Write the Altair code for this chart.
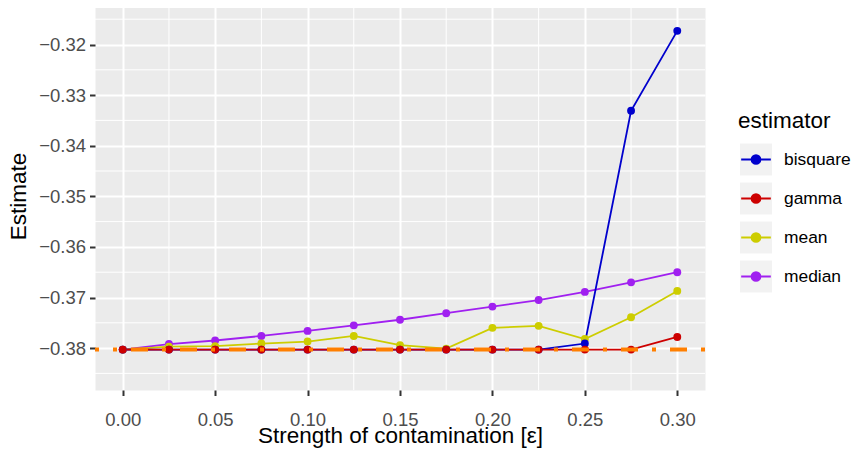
import altair as alt
import pandas as pd

# ---- data ----
eps = [0.0, 0.025, 0.05, 0.075, 0.1, 0.125, 0.15, 0.175, 0.2, 0.225, 0.25, 0.275, 0.3]
bisquare = [-0.3803, -0.3803, -0.3803, -0.3803, -0.3803, -0.3803, -0.3803, -0.3803, -0.3803, -0.3803, -0.3791, -0.3331, -0.3173]
gamma = [-0.3803, -0.3803, -0.3803, -0.3803, -0.3803, -0.3803, -0.3803, -0.3803, -0.3803, -0.3803, -0.3803, -0.3803, -0.3778]
mean = [-0.3803, -0.3797, -0.3796, -0.3791, -0.3787, -0.3776, -0.3794, -0.3801, -0.3760, -0.3756, -0.3782, -0.3739, -0.3687]
median = [-0.3803, -0.3792, -0.3785, -0.3776, -0.3766, -0.3755, -0.3744, -0.3731, -0.3718, -0.3705, -0.3689, -0.3670, -0.3650]
true_value = [-0.3803]

estimators = ["bisquare", "gamma", "mean", "median"]
colors = ["#0000CD", "#CD0000", "#CDCD00", "#A020F0"]
draw_order = ["median", "mean", "bisquare", "gamma"]

x_major = [0.0, 0.05, 0.1, 0.15, 0.2, 0.25, 0.3]
x_minor = [0.025, 0.075, 0.125, 0.175, 0.225, 0.275]
y_major = [-0.38, -0.37, -0.36, -0.35, -0.34, -0.33, -0.32]
y_minor = [-0.385, -0.375, -0.365, -0.355, -0.345, -0.335, -0.325, -0.315]

series = {"bisquare": bisquare, "gamma": gamma, "mean": mean, "median": median}
rows = []
for est in draw_order:
    for e, v in zip(eps, series[est]):
        rows.append({"eps": e, "value": v, "estimator": est, "key": "key " + est})
df = pd.DataFrame(rows)
truth = pd.DataFrame({"value": true_value})
xminor_df = pd.DataFrame({"eps": x_minor})
yminor_df = pd.DataFrame({"value": y_minor})
key_domain = ["key " + e for e in estimators]

FONT = "Liberation Sans"

x_axis = alt.Axis(
    values=x_major, title="Strength of contamination [ε]", format=".2f",
    labelOverlap=False, labelFlush=False, labelPadding=15, titlePadding=-5,
)
y_axis = alt.Axis(
    values=y_major, title="Estimate", format=".2f",
    labelOverlap=False, labelFlush=False, labelPadding=4, titlePadding=8,
)
x_scale = alt.Scale(domain=[-0.015, 0.315], nice=False, zero=False)
y_scale = alt.Scale(domain=[-0.38828, -0.3116], nice=False, zero=False)
x_enc = alt.X("eps:Q", scale=x_scale, axis=x_axis)
y_enc = alt.Y("value:Q", scale=y_scale, axis=y_axis)

KEY = 33.7
# key glyph: line + dot; the two bare move-to points give it the full key box
path = ("M -1 -1 M 1 1 M -0.88 0 L 0.88 0 M 0.265 0 A 0.265 0.265 0 1 1 -0.265 0 "
        "A 0.265 0.265 0 1 1 0.265 0 Z")
common_legend = dict(
    orient="none", legendX=643, legendY=108, padding=0,
    titleFont=FONT, titleFontSize=22.5, titleFontWeight="normal",
    titlePadding=9, labelFont=FONT, labelFontSize=17.4, labelOffset=10,
    rowPadding=-6.5, symbolSize=KEY * KEY, symbolStrokeWidth=1.8, symbolOpacity=1,
)
color_legend = alt.Legend(
    zindex=2, title="estimator", titleColor="black", labelColor="black", symbolType=path,
    **common_legend,
)
bg_legend = alt.Legend(
    zindex=1, title=" ", labelExpr="''",
    symbolType="square", symbolFillColor="#F2F2F2", symbolStrokeColor="white",
    **common_legend,
)

color_enc = alt.Color("estimator:N", scale=alt.Scale(domain=estimators, range=colors), legend=color_legend)

grid_x = alt.Chart(xminor_df).mark_rule(color="white", strokeWidth=1).encode(x=x_enc)
grid_y = alt.Chart(yminor_df).mark_rule(color="white", strokeWidth=1).encode(y=y_enc)
lines = alt.Chart(df).mark_line(strokeWidth=1.8).encode(x=x_enc, y=y_enc, color=color_enc)
points = alt.Chart(df).mark_point(filled=True, size=62, opacity=1).encode(
    x=x_enc, y=y_enc, color=color_enc,
    opacity=alt.Opacity("key:O", sort=key_domain,
                        scale=alt.Scale(domain=key_domain, range=[1, 1, 1, 1]), legend=bg_legend),
)
hline = alt.Chart(truth).mark_rule(
    color="#FF7F00", strokeWidth=4, strokeDash=[17, 14, 4, 14], strokeDashOffset=31
).encode(y=y_enc)

chart = alt.layer(grid_x, grid_y, lines, points, hline).properties(
    width=610, height=388,
    padding={"left": 87, "top": -6, "right": 146, "bottom": 59},
    autosize=alt.AutoSizeParams(type="none"),
).configure_view(fill="#EBEBEB", stroke="transparent").configure_axis(
    domain=False, gridColor="white", gridWidth=2, tickColor="#333333", tickWidth=2, tickSize=5.5,
    labelFont=FONT, labelFontSize=18.5, labelColor="#4D4D4D",
    titleFont=FONT, titleFontSize=22.5, titleFontWeight="normal", titleColor="black",
)

chart.save("out.html", embed_options={"renderer": "svg", "actions": False})
